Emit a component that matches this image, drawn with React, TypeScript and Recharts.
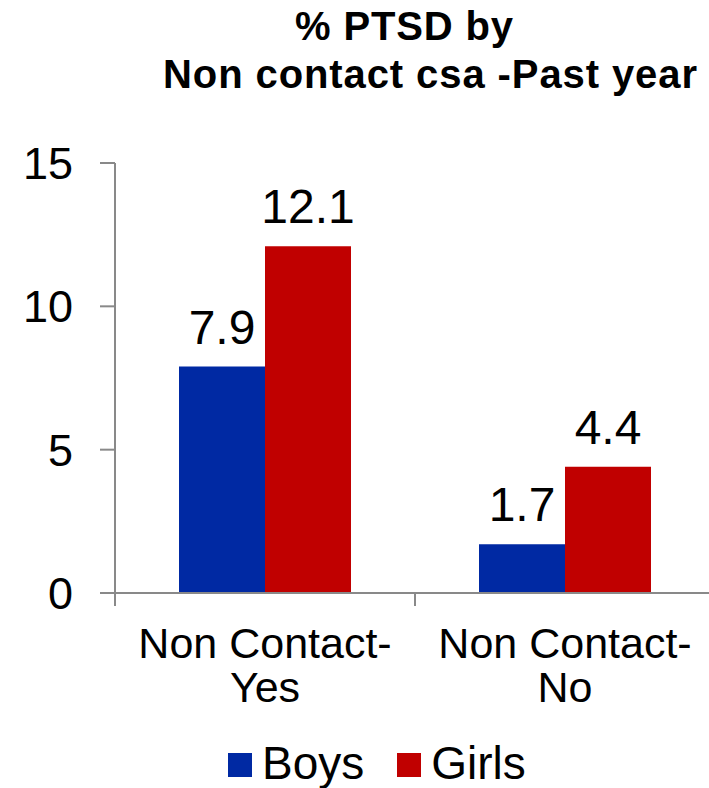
import { Bar, BarChart, LabelList, Legend, XAxis, YAxis } from 'recharts'

const categories = ['Non Contact-\nYes', 'Non Contact-\nNo']
const boys = [7.9, 1.7]
const girls = [12.1, 4.4]
const yTicks = [0, 5, 10, 15]
const titleLines = ['% PTSD by', 'Non contact csa -Past year']

const FONT = '"Liberation Sans", Arial, sans-serif'
const AXIS = '#898989'
const BLUE = '#0029A3'
const RED = '#C00000'

const data = categories.map((name, i) => ({ name, boys: boys[i], girls: girls[i] }))

function XTick(props: any) {
  const { x, y, payload } = props
  const half = payload.offset || 150
  const lines = String(payload.value).split('\n')
  return (
    <g>
      <line x1={x - half} x2={x - half} y1={y} y2={y + 13} stroke={AXIS} strokeWidth={2} />
      {lines.map((t, i) => (
        <text
          key={i}
          x={x}
          y={y + 65 + i * 44}
          textAnchor="middle"
          fontSize={43}
          fontFamily={FONT}
          fill="#000"
        >
          {t}
        </text>
      ))}
    </g>
  )
}

function LegendBox(props: any) {
  const items = props.payload || []
  return (
    <div
      style={{
        display: 'flex',
        alignItems: 'center',
        height: 50,
        paddingLeft: 228,
        fontFamily: FONT,
        fontSize: 46,
        lineHeight: '50px',
        color: '#000',
      }}
    >
      {items.map((it: any, i: number) => (
        <div key={it.value} style={{ display: 'flex', alignItems: 'center', marginLeft: i ? 33 : 0 }}>
          <span style={{ width: 24, height: 24, marginTop: 4, marginRight: 10, background: it.color }} />
          <span>{it.value}</span>
        </div>
      ))}
    </div>
  )
}

export default function App() {
  return (
    <div
      style={{
        position: 'absolute',
        left: 0,
        top: 0,
        width: 709,
        height: 788,
        overflow: 'hidden',
        background: '#fff',
      }}
    >
      <svg width={709} height={110} style={{ position: 'absolute', left: 0, top: 0 }}>
        <text x={404} y={40} textAnchor="middle" fontSize={40} fontWeight="bold" fontFamily={FONT} textLength={218}>
          {titleLines[0]}
        </text>
        <text x={430} y={88} textAnchor="middle" fontSize={40} fontWeight="bold" fontFamily={FONT} textLength={534}>
          {titleLines[1]}
        </text>
      </svg>
      <BarChart
        width={720}
        height={788}
        data={data}
        margin={{ top: 163, right: 5, bottom: 0, left: 0 }}
        barCategoryGap={64}
        barGap={0}
      >
        <XAxis
          dataKey="name"
          height={145}
          interval={0}
          tickSize={0}
          tickMargin={0}
          tickLine={false}
          axisLine={{ stroke: AXIS, strokeWidth: 2 }}
          tick={(p: any) => <XTick {...p} />}
        />
        <YAxis
          domain={[0, 15]}
          ticks={yTicks}
          interval={0}
          width={115}
          tickSize={15}
          tickMargin={27}
          axisLine={{ stroke: AXIS, strokeWidth: 2 }}
          tickLine={{ stroke: AXIS, strokeWidth: 2 }}
          tick={{ fill: '#000', fontSize: 45, fontFamily: FONT }}
        />
        <Legend
          verticalAlign="bottom"
          wrapperStyle={{ left: 0, width: 720 }}
          content={(p: any) => <LegendBox {...p} />}
        />
        <Bar dataKey="boys" name="Boys" fill={BLUE} isAnimationActive={false}>
          <LabelList dataKey="boys" position="top" offset={23} fill="#000" fontSize={48} fontFamily={FONT} />
        </Bar>
        <Bar dataKey="girls" name="Girls" fill={RED} isAnimationActive={false}>
          <LabelList dataKey="girls" position="top" offset={23} fill="#000" fontSize={48} fontFamily={FONT} />
        </Bar>
      </BarChart>
    </div>
  )
}
